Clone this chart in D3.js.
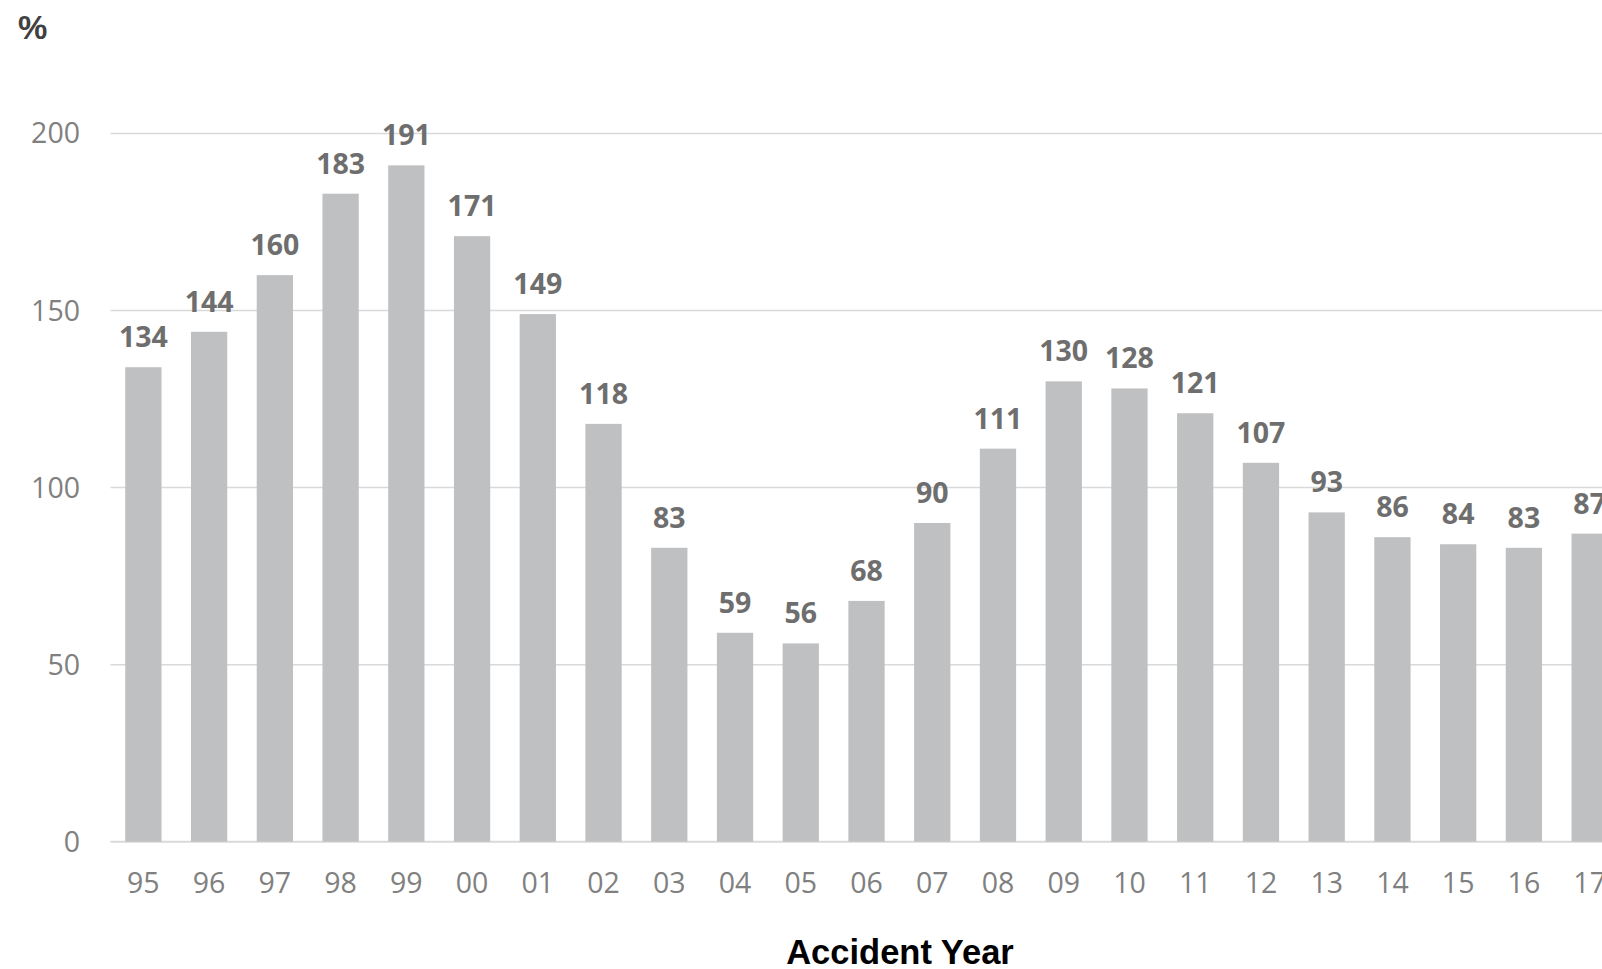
<!DOCTYPE html>
<html>
<head>
<meta charset="utf-8">
<script src="https://cdn.jsdelivr.net/npm/d3@7"></script>
<style>
  html, body { margin: 0; padding: 0; background: #fff; overflow: hidden; }
  svg { display: block; }
</style>
</head>
<body>
<svg id="chart" width="1602" height="969"></svg>
<script>
const years = ["95","96","97","98","99","00","01","02","03","04","05","06","07","08","09","10","11","12","13","14","15","16","17"];
const values = [134,144,160,183,191,171,149,118,83,59,56,68,90,111,130,128,121,107,93,86,84,83,87];
const yTicks = [0,50,100,150,200];
const yUnit = "%";
const xTitle = "Accident Year";

const svg = d3.select("#chart");
const left = 110.5, step = 65.74;
const x = d3.scaleBand().domain(years).range([left, left + years.length * step]).paddingInner(0.448).paddingOuter(0.224);
const y = d3.scaleLinear().domain([0, 200]).range([841.7, 133.5]);

// gridlines
svg.append("g").selectAll("line").data(yTicks).join("line")
  .attr("x1", left).attr("x2", 1700)
  .attr("y1", d => y(d)).attr("y2", d => y(d))
  .attr("stroke", "#d9d9d9").attr("stroke-width", d => d === 0 ? 2 : 1.5);

// y labels
svg.append("g").selectAll("text").data(yTicks).join("text")
  .attr("x", 80).attr("y", d => y(d)).attr("dy", "0.35em")
  .attr("text-anchor", "end")
  .attr("font-family", "Open Sans").attr("font-size", 28.5)
  .attr("fill", "#808080").text(d => d);

// bars
svg.append("g").selectAll("rect").data(values).join("rect")
  .attr("x", (d, i) => x(years[i]))
  .attr("width", x.bandwidth())
  .attr("y", d => y(d))
  .attr("height", d => y(0) - y(d))
  .attr("fill", "#bfc0c2");

// value labels
svg.append("g").selectAll("text").data(values).join("text")
  .attr("x", (d, i) => x(years[i]) + x.bandwidth() / 2)
  .attr("y", d => y(d) - 20)
  .attr("text-anchor", "middle")
  .attr("font-family", "Open Sans").attr("font-weight", "bold").attr("font-size", 28.5)
  .attr("fill", "#6e6e6e").text(d => d);

// x labels
svg.append("g").selectAll("text").data(years).join("text")
  .attr("x", d => x(d) + x.bandwidth() / 2)
  .attr("y", 893)
  .attr("text-anchor", "middle")
  .attr("font-family", "Open Sans").attr("font-size", 28.5)
  .attr("fill", "#808080").text(d => d);

// axis title
svg.append("text").attr("x", 900).attr("y", 964)
  .attr("text-anchor", "middle")
  .attr("font-family", "Liberation Sans, Arial").attr("font-weight", "bold").attr("font-size", 34.5)
  .attr("fill", "#000").text(xTitle);

// unit
svg.append("text").attr("x", 18).attr("y", 39)
  .attr("font-family", "Liberation Sans, Arial").attr("font-weight", "bold").attr("font-size", 33)
  .attr("fill", "#404040").text(yUnit);
</script>
</body>
</html>
